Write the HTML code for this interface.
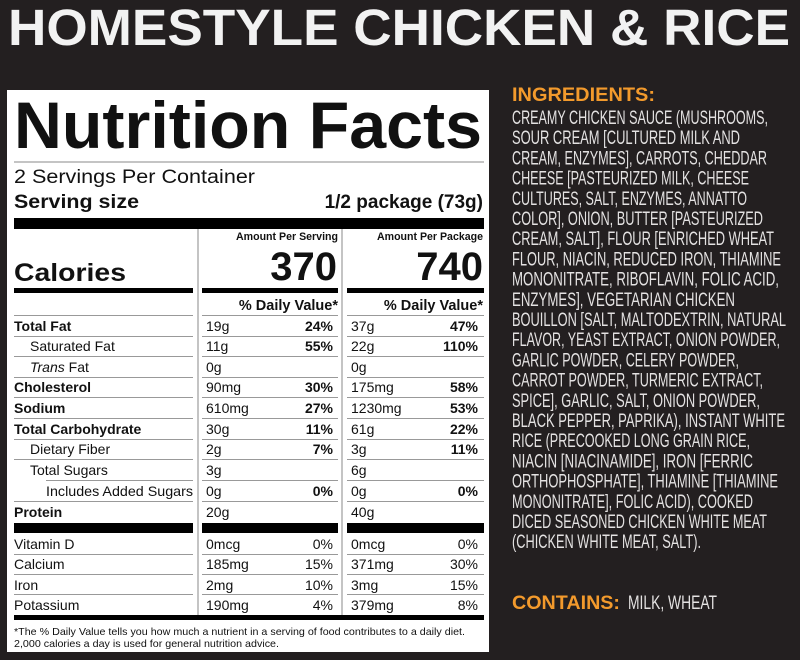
<!DOCTYPE html>
<html><head><meta charset="utf-8"><style>
html,body{margin:0;padding:0;background:#231f20;}
svg{display:block}
.l{font-family:"Liberation Sans",Arial,sans-serif;fill:#111}
.b{font-weight:bold}
.c{font-family:"Liberation Sans Narrow","Liberation Sans",sans-serif;fill:#e4e2e2;font-size:19px}
.o{font-family:"Liberation Sans",sans-serif;font-weight:bold;fill:#f39a2c;font-size:19px}
</style></head><body>
<svg width="800" height="660" viewBox="0 0 800 660" xmlns="http://www.w3.org/2000/svg">
<rect width="800" height="660" fill="#231f20"/>
<text x="8" y="45" font-family="Liberation Sans" font-weight="bold" font-size="51" fill="#f2f2f2" textLength="782" lengthAdjust="spacingAndGlyphs">HOMESTYLE CHICKEN &amp; RICE</text>

<rect x="7" y="90" width="482" height="562" fill="#fff"/>
<text class="l b" x="14" y="148" font-size="66" textLength="468" lengthAdjust="spacingAndGlyphs">Nutrition Facts</text>
<rect x="14" y="161.5" width="470" height="1" fill="#888"/>
<text class="l" x="14" y="183" font-size="19" textLength="241" lengthAdjust="spacingAndGlyphs">2 Servings Per Container</text>
<text class="l b" x="14" y="208" font-size="19" textLength="125" lengthAdjust="spacingAndGlyphs">Serving size</text>
<text class="l b" x="483" y="208" font-size="19" text-anchor="end">1/2 package (73g)</text>
<rect x="14" y="218" width="470" height="11" fill="#000"/>
<rect x="197.5" y="229" width="1" height="386" fill="#888"/>
<rect x="341.5" y="229" width="1" height="386" fill="#888"/>

<text class="l b" x="236" y="240" font-size="11" textLength="102" lengthAdjust="spacingAndGlyphs">Amount Per Serving</text>
<text class="l b" x="377" y="240" font-size="11" textLength="106" lengthAdjust="spacingAndGlyphs">Amount Per Package</text>
<text class="l b" x="337" y="280" font-size="40" text-anchor="end">370</text>
<text class="l b" x="483" y="280" font-size="40" text-anchor="end">740</text>
<text class="l b" x="14" y="281" font-size="25" textLength="112" lengthAdjust="spacingAndGlyphs">Calories</text>
<rect x="14" y="288" width="179" height="5" fill="#000"/>
<rect x="202" y="288" width="136" height="5" fill="#000"/>
<rect x="347" y="288" width="137" height="5" fill="#000"/>
<text class="l b" x="338" y="310" font-size="14.5" text-anchor="end">% Daily Value*</text>
<text class="l b" x="483" y="310" font-size="14.5" text-anchor="end">% Daily Value*</text>

<g fill="#999">
<rect x="14" y="315" width="179" height="1"/><rect x="202" y="315" width="136" height="1"/><rect x="347" y="315" width="137" height="1"/>
<rect x="14" y="336" width="179" height="1"/><rect x="202" y="336" width="136" height="1"/><rect x="347" y="336" width="137" height="1"/>
<rect x="14" y="356" width="179" height="1"/><rect x="202" y="356" width="136" height="1"/><rect x="347" y="356" width="137" height="1"/>
<rect x="14" y="377" width="179" height="1"/><rect x="202" y="377" width="136" height="1"/><rect x="347" y="377" width="137" height="1"/>
<rect x="14" y="397" width="179" height="1"/><rect x="202" y="397" width="136" height="1"/><rect x="347" y="397" width="137" height="1"/>
<rect x="14" y="418" width="179" height="1"/><rect x="202" y="418" width="136" height="1"/><rect x="347" y="418" width="137" height="1"/>
<rect x="14" y="439" width="179" height="1"/><rect x="202" y="439" width="136" height="1"/><rect x="347" y="439" width="137" height="1"/>
<rect x="14" y="459" width="179" height="1"/><rect x="202" y="459" width="136" height="1"/><rect x="347" y="459" width="137" height="1"/>
<rect x="46" y="480" width="147" height="1"/><rect x="202" y="480" width="136" height="1"/><rect x="347" y="480" width="137" height="1"/>
<rect x="14" y="501" width="179" height="1"/><rect x="202" y="501" width="136" height="1"/><rect x="347" y="501" width="137" height="1"/>
<rect x="14" y="554" width="179" height="1"/><rect x="202" y="554" width="136" height="1"/><rect x="347" y="554" width="137" height="1"/>
<rect x="14" y="574" width="179" height="1"/><rect x="202" y="574" width="136" height="1"/><rect x="347" y="574" width="137" height="1"/>
<rect x="14" y="594" width="179" height="1"/><rect x="202" y="594" width="136" height="1"/><rect x="347" y="594" width="137" height="1"/>
</g>
<rect x="14" y="523" width="179" height="10" fill="#000"/>
<rect x="202" y="523" width="136" height="10" fill="#000"/>
<rect x="347" y="523" width="137" height="10" fill="#000"/>
<rect x="14" y="615" width="470" height="5" fill="#000"/>

<g class="l" font-size="14">
<text class="b" x="14" y="331">Total Fat</text><text x="206" y="331">19g</text><text class="b" x="333" y="331" text-anchor="end">24%</text><text x="351" y="331">37g</text><text class="b" x="478" y="331" text-anchor="end">47%</text>
<text x="30" y="351">Saturated Fat</text><text x="206" y="351">11g</text><text class="b" x="333" y="351" text-anchor="end">55%</text><text x="351" y="351">22g</text><text class="b" x="478" y="351" text-anchor="end">110%</text>
<text x="30" y="372"><tspan font-style="italic">Trans</tspan> Fat</text><text x="206" y="372">0g</text><text x="351" y="372">0g</text>
<text class="b" x="14" y="392">Cholesterol</text><text x="206" y="392">90mg</text><text class="b" x="333" y="392" text-anchor="end">30%</text><text x="351" y="392">175mg</text><text class="b" x="478" y="392" text-anchor="end">58%</text>
<text class="b" x="14" y="413">Sodium</text><text x="206" y="413">610mg</text><text class="b" x="333" y="413" text-anchor="end">27%</text><text x="351" y="413">1230mg</text><text class="b" x="478" y="413" text-anchor="end">53%</text>
<text class="b" x="14" y="434">Total Carbohydrate</text><text x="206" y="434">30g</text><text class="b" x="333" y="434" text-anchor="end">11%</text><text x="351" y="434">61g</text><text class="b" x="478" y="434" text-anchor="end">22%</text>
<text x="30" y="454">Dietary Fiber</text><text x="206" y="454">2g</text><text class="b" x="333" y="454" text-anchor="end">7%</text><text x="351" y="454">3g</text><text class="b" x="478" y="454" text-anchor="end">11%</text>
<text x="30" y="475">Total Sugars</text><text x="206" y="475">3g</text><text x="351" y="475">6g</text>
<text x="46" y="496" textLength="147" lengthAdjust="spacingAndGlyphs">Includes Added Sugars</text><text x="206" y="496">0g</text><text class="b" x="333" y="496" text-anchor="end">0%</text><text x="351" y="496">0g</text><text class="b" x="478" y="496" text-anchor="end">0%</text>
<text class="b" x="14" y="517">Protein</text><text x="206" y="517">20g</text><text x="351" y="517">40g</text>
<text x="14" y="549">Vitamin D</text><text x="206" y="549">0mcg</text><text x="333" y="549" text-anchor="end">0%</text><text x="351" y="549">0mcg</text><text x="478" y="549" text-anchor="end">0%</text>
<text x="14" y="569">Calcium</text><text x="206" y="569">185mg</text><text x="333" y="569" text-anchor="end">15%</text><text x="351" y="569">371mg</text><text x="478" y="569" text-anchor="end">30%</text>
<text x="14" y="590">Iron</text><text x="206" y="590">2mg</text><text x="333" y="590" text-anchor="end">10%</text><text x="351" y="590">3mg</text><text x="478" y="590" text-anchor="end">15%</text>
<text x="14" y="610">Potassium</text><text x="206" y="610">190mg</text><text x="333" y="610" text-anchor="end">4%</text><text x="351" y="610">379mg</text><text x="478" y="610" text-anchor="end">8%</text>
</g>
<text class="l" x="14" y="635" font-size="10.5" textLength="451" lengthAdjust="spacingAndGlyphs">*The % Daily Value tells you how much a nutrient in a serving of food contributes to a daily diet.</text>
<text class="l" x="14" y="647" font-size="10.5" textLength="265" lengthAdjust="spacingAndGlyphs">2,000 calories a day is used for general nutrition advice.</text>

<text class="o" x="512" y="101" textLength="143" lengthAdjust="spacingAndGlyphs">INGREDIENTS:</text>
<g class="c">
<text x="512" y="124" textLength="256" lengthAdjust="spacingAndGlyphs">CREAMY CHICKEN SAUCE (MUSHROOMS,</text>
<text x="512" y="144.2" textLength="228" lengthAdjust="spacingAndGlyphs">SOUR CREAM [CULTURED MILK AND</text>
<text x="512" y="164.4" textLength="255" lengthAdjust="spacingAndGlyphs">CREAM, ENZYMES], CARROTS, CHEDDAR</text>
<text x="512" y="184.6" textLength="237" lengthAdjust="spacingAndGlyphs">CHEESE [PASTEURIZED MILK, CHEESE</text>
<text x="512" y="204.8" textLength="235" lengthAdjust="spacingAndGlyphs">CULTURES, SALT, ENZYMES, ANNATTO</text>
<text x="512" y="225" textLength="251" lengthAdjust="spacingAndGlyphs">COLOR], ONION, BUTTER [PASTEURIZED</text>
<text x="512" y="245.2" textLength="262" lengthAdjust="spacingAndGlyphs">CREAM, SALT], FLOUR [ENRICHED WHEAT</text>
<text x="512" y="265.4" textLength="269" lengthAdjust="spacingAndGlyphs">FLOUR, NIACIN, REDUCED IRON, THIAMINE</text>
<text x="512" y="285.6" textLength="267" lengthAdjust="spacingAndGlyphs">MONONITRATE, RIBOFLAVIN, FOLIC ACID,</text>
<text x="512" y="305.8" textLength="223" lengthAdjust="spacingAndGlyphs">ENZYMES], VEGETARIAN CHICKEN</text>
<text x="512" y="326" textLength="274" lengthAdjust="spacingAndGlyphs">BOUILLON [SALT, MALTODEXTRIN, NATURAL</text>
<text x="512" y="346.2" textLength="268" lengthAdjust="spacingAndGlyphs">FLAVOR, YEAST EXTRACT, ONION POWDER,</text>
<text x="512" y="366.4" textLength="227" lengthAdjust="spacingAndGlyphs">GARLIC POWDER, CELERY POWDER,</text>
<text x="512" y="386.6" textLength="251" lengthAdjust="spacingAndGlyphs">CARROT POWDER, TURMERIC EXTRACT,</text>
<text x="512" y="406.8" textLength="248" lengthAdjust="spacingAndGlyphs">SPICE], GARLIC, SALT, ONION POWDER,</text>
<text x="512" y="427" textLength="273" lengthAdjust="spacingAndGlyphs">BLACK PEPPER, PAPRIKA), INSTANT WHITE</text>
<text x="512" y="447.2" textLength="238" lengthAdjust="spacingAndGlyphs">RICE (PRECOOKED LONG GRAIN RICE,</text>
<text x="512" y="467.4" textLength="241" lengthAdjust="spacingAndGlyphs">NIACIN [NIACINAMIDE], IRON [FERRIC</text>
<text x="512" y="487.6" textLength="266" lengthAdjust="spacingAndGlyphs">ORTHOPHOSPHATE], THIAMINE [THIAMINE</text>
<text x="512" y="507.8" textLength="241" lengthAdjust="spacingAndGlyphs">MONONITRATE], FOLIC ACID), COOKED</text>
<text x="512" y="528" textLength="255" lengthAdjust="spacingAndGlyphs">DICED SEASONED CHICKEN WHITE MEAT</text>
<text x="512" y="548.2" textLength="189" lengthAdjust="spacingAndGlyphs">(CHICKEN WHITE MEAT, SALT).</text>
</g>
<text class="o" x="512" y="609" textLength="108" lengthAdjust="spacingAndGlyphs">CONTAINS:</text>
<text class="c" x="628" y="609" textLength="89" lengthAdjust="spacingAndGlyphs">MILK, WHEAT</text>
</svg>
</body></html>
